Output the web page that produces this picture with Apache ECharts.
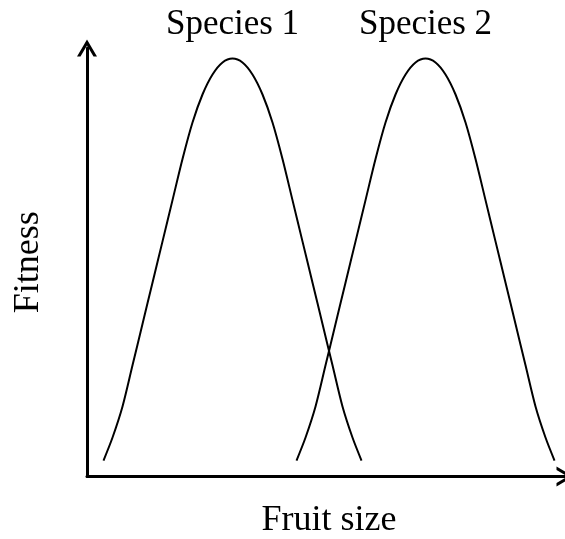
<!DOCTYPE html>
<html>
<head>
<meta charset="utf-8">
<script src="https://cdn.jsdelivr.net/npm/echarts@6/dist/echarts.min.js"></script>
<style>
html,body{margin:0;padding:0;background:#fff;}
#chart{width:565px;height:539px;}
</style>
</head>
<body>
<div id="chart"></div>
<script>
// ---- data ----
var seriesNames = ['Species 1', 'Species 2'];
var xAxisName = 'Fruit size';
var yAxisName = 'Fitness';

var species1X = [3.45, 5.34, 7.43, 9.52, 11.61, 13.70, 15.80, 17.89, 19.98, 22.07, 24.16, 26.26, 28.35, 30.44, 32.53, 34.62, 36.72, 38.81, 40.90, 42.99, 45.08, 47.18, 49.27, 51.36, 53.45, 55.54, 57.43];
var species1Y = [3.73, 9.10, 16.34, 25.95, 35.59, 45.23, 54.87, 64.50, 74.10, 82.61, 89.15, 93.82, 96.62, 97.55, 96.62, 93.82, 89.15, 82.61, 74.10, 64.50, 54.87, 45.23, 35.59, 25.95, 16.34, 9.10, 3.73];

var species2X = [43.83, 45.72, 47.81, 49.90, 51.99, 54.08, 56.18, 58.27, 60.36, 62.45, 64.54, 66.64, 68.73, 70.82, 72.91, 75.00, 77.10, 79.19, 81.28, 83.37, 85.46, 87.56, 89.65, 91.74, 93.83, 95.92, 97.81];
var species2Y = [3.73, 9.10, 16.34, 25.95, 35.59, 45.23, 54.87, 64.50, 74.10, 82.61, 89.15, 93.82, 96.62, 97.55, 96.62, 93.82, 89.15, 82.61, 74.10, 64.50, 54.87, 45.23, 35.59, 25.95, 16.34, 9.10, 3.73];

// ---- build ----
function pairs(xs, ys) {
  var out = [];
  for (var i = 0; i < xs.length; i++) out.push([xs[i], ys[i]]);
  return out;
}
var FONT = '"Liberation Serif", "Times New Roman", serif';
var chevron = 'path://M0,17 L10,0 L20,17 L16.5,17 L10,5.9 L3.5,17 Z';

function makeSeries(name, xs, ys) {
  return {
    name: name,
    type: 'line',
    data: pairs(xs, ys),
    smooth: 0.3,
    showSymbol: false,
    symbol: 'none',
    lineStyle: { color: '#000', width: 2 },
    itemStyle: { color: '#000' },
    silent: true,
    markPoint: {
      symbol: 'circle',
      symbolSize: 1,
      itemStyle: { color: 'rgba(0,0,0,0)' },
      data: [{ type: 'max' }],
      label: {
        show: true,
        position: 'inside',
        offset: [0, -34],
        formatter: name,
        color: '#000',
        fontFamily: FONT,
        fontSize: 35
      }
    }
  };
}

var chart = echarts.init(document.getElementById('chart'), null, { renderer: 'canvas' });
chart.setOption({
  animation: false,
  backgroundColor: '#fff',
  grid: { left: 87, right: 0, top: 48, bottom: 62.5, containLabel: false, outerBoundsMode: 'none' },
  xAxis: {
    type: 'value', min: 0, max: 100,
    name: xAxisName, nameLocation: 'middle', nameGap: 26,
    nameTextStyle: { fontFamily: FONT, fontSize: 36, color: '#000', padding: [0, 0, 0, 6] },
    axisLine: { show: true, onZero: false, symbol: ['none', chevron], symbolSize: [20, 17],
      lineStyle: { color: '#000', width: 3 } },
    axisTick: { show: false }, axisLabel: { show: false }, splitLine: { show: false }
  },
  yAxis: {
    type: 'value', min: 0, max: 100,
    name: yAxisName, nameLocation: 'middle', nameGap: 40,
    nameTextStyle: { fontFamily: FONT, fontSize: 36, color: '#000' },
    axisLine: { show: true, onZero: false, symbol: ['none', chevron], symbolSize: [20, 17],
      lineStyle: { color: '#000', width: 3 } },
    axisTick: { show: false }, axisLabel: { show: false }, splitLine: { show: false }
  },
  series: [
    makeSeries(seriesNames[0], species1X, species1Y),
    makeSeries(seriesNames[1], species2X, species2Y)
  ]
});
</script>
</body>
</html>
